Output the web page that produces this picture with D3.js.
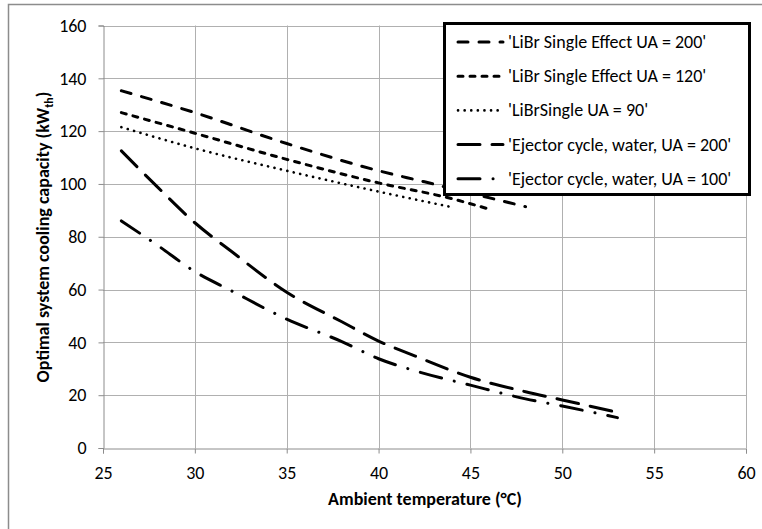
<!DOCTYPE html>
<html>
<head>
<meta charset="utf-8">
<script src="https://cdn.jsdelivr.net/npm/d3@7"></script>
<style>
  body { margin: 0; background: #fff; }
  svg text { font-family: Carlito, Lato, "Liberation Sans", sans-serif; fill: #000; }
</style>
</head>
<body>
<svg id="chart" width="762" height="529"></svg>
<script>
// values
var seriesNames = [
  "'LiBr Single Effect UA = 200'",
  "'LiBr Single Effect UA = 120'",
  "'LiBrSingle UA = 90'",
  "'Ejector cycle, water, UA = 200'",
  "'Ejector cycle, water, UA = 100'"
];
var libr200X = [26, 30, 35, 40, 42.5, 45, 48];
var libr200Y = [135.3, 127, 115.3, 105, 100.8, 96.5, 91.4];
var libr120X = [26, 30, 35, 40, 44, 46];
var libr120Y = [127, 119.2, 109.3, 100.4, 94.4, 90.5];
var libr90X = [26, 30, 35, 40, 44];
var libr90Y = [121.5, 113.5, 105, 97.1, 91.2];
var ej200X = [26, 28, 30, 32, 35, 38, 40, 42, 45, 48, 50, 53];
var ej200Y = [112.5, 98.6, 85.3, 74.4, 59, 47.8, 40.5, 34.8, 26.8, 21.3, 18.2, 13.5];
var ej100X = [26, 28, 30, 32, 35, 38, 40, 42, 45, 48, 50, 53];
var ej100Y = [86, 76.6, 66.8, 59.5, 48.8, 40.3, 33.8, 29.2, 23.8, 18.6, 15.9, 11.5];
var xTicks = [25, 30, 35, 40, 45, 50, 55, 60];
var yTicks = [0, 20, 40, 60, 80, 100, 120, 140, 160];

var lineX = [libr200X, libr120X, libr90X, ej200X, ej100X];
var lineY = [libr200Y, libr120Y, libr90Y, ej200Y, ej100Y];
var dashes = ["10,11", "5,7", "0.1,6.5", "22,12", "22,13,0.1,13"];
var widths = [3, 3, 2.6, 3, 3];

var svg = d3.select('#chart');

// outer chart border
svg.append('rect')
  .attr('x', 8.5).attr('y', 4.5)
  .attr('width', 900).attr('height', 700)
  .attr('fill', 'none').attr('stroke', '#8c8c8c').attr('stroke-width', 1.5);

var x = d3.scaleLinear().domain([25, 60]).range([103, 746]);
var y = d3.scaleLinear().domain([0, 160]).range([448, 25.5]);

// gridlines
svg.append('g').selectAll('line.gx').data(xTicks.slice(1)).enter().append('line')
  .attr('x1', d => Math.round(x(d)) + 0.5).attr('x2', d => Math.round(x(d)) + 0.5)
  .attr('y1', y(160)).attr('y2', y(0))
  .attr('stroke', '#b0b0b0').attr('stroke-width', 1);
svg.append('g').selectAll('line.gy').data(yTicks.slice(1)).enter().append('line')
  .attr('x1', x(25)).attr('x2', x(60))
  .attr('y1', d => Math.round(y(d)) + 0.5).attr('y2', d => Math.round(y(d)) + 0.5)
  .attr('stroke', '#b0b0b0').attr('stroke-width', 1);

// axes
var xAxis = d3.axisBottom(x).tickValues(xTicks).tickSize(5).tickPadding(13);
var yAxis = d3.axisLeft(y).tickValues(yTicks).tickSize(5).tickPadding(12);

var gx = svg.append('g').attr('transform', 'translate(0,' + (Math.round(y(0)) + 0.5) + ')').call(xAxis);
var gy = svg.append('g').attr('transform', 'translate(' + (Math.round(x(25)) + 0.5) + ',0)').call(yAxis);
[gx, gy].forEach(g => {
  g.select('.domain').attr('stroke', '#8c8c8c');
  g.selectAll('.tick line').attr('stroke', '#8c8c8c');
  g.selectAll('.tick text').style('font-size', '18px').attr('fill', '#000');
});

// series lines
var line = d3.line().x(d => x(d[0])).y(d => y(d[1])).curve(d3.curveMonotoneX);
lineX.forEach((xs, i) => {
  var pts = xs.map((v, j) => [v, lineY[i][j]]);
  svg.append('path')
    .attr('d', line(pts))
    .attr('fill', 'none')
    .attr('stroke', '#000')
    .attr('stroke-width', widths[i])
    .attr('stroke-linecap', 'round')
    .attr('stroke-dasharray', dashes[i]);
});

// axis titles
svg.append('text')
  .attr('x', 425).attr('y', 505)
  .attr('text-anchor', 'middle')
  .style('font-size', '18px').style('font-weight', 'bold')
  .text('Ambient temperature (°C)');

var yt = svg.append('text')
  .attr('transform', 'translate(49,237) rotate(-90)')
  .attr('text-anchor', 'middle')
  .style('font-size', '18px').style('font-weight', 'bold');
yt.append('tspan').text('Optimal system cooling capacity (kW');
yt.append('tspan').text('th').style('font-size', '12px').attr('dy', 4);
yt.append('tspan').text(')').attr('dy', -4);

// legend
var legend = svg.append('g');
legend.append('rect')
  .attr('x', 444.5).attr('y', 23.5)
  .attr('width', 305).attr('height', 171)
  .attr('fill', '#fff').attr('stroke', '#000').attr('stroke-width', 3);

seriesNames.forEach((name, i) => {
  var ly = 42 + i * 34.2;
  legend.append('line')
    .attr('x1', 458).attr('x2', 503)
    .attr('y1', ly).attr('y2', ly)
    .attr('stroke', '#000')
    .attr('stroke-width', widths[i])
    .attr('stroke-linecap', 'round')
    .attr('stroke-dasharray', dashes[i]);
  legend.append('text')
    .attr('x', 508).attr('y', ly + 6)
    .style('font-size', '18px')
    .text(name);
});
</script>
</body>
</html>
